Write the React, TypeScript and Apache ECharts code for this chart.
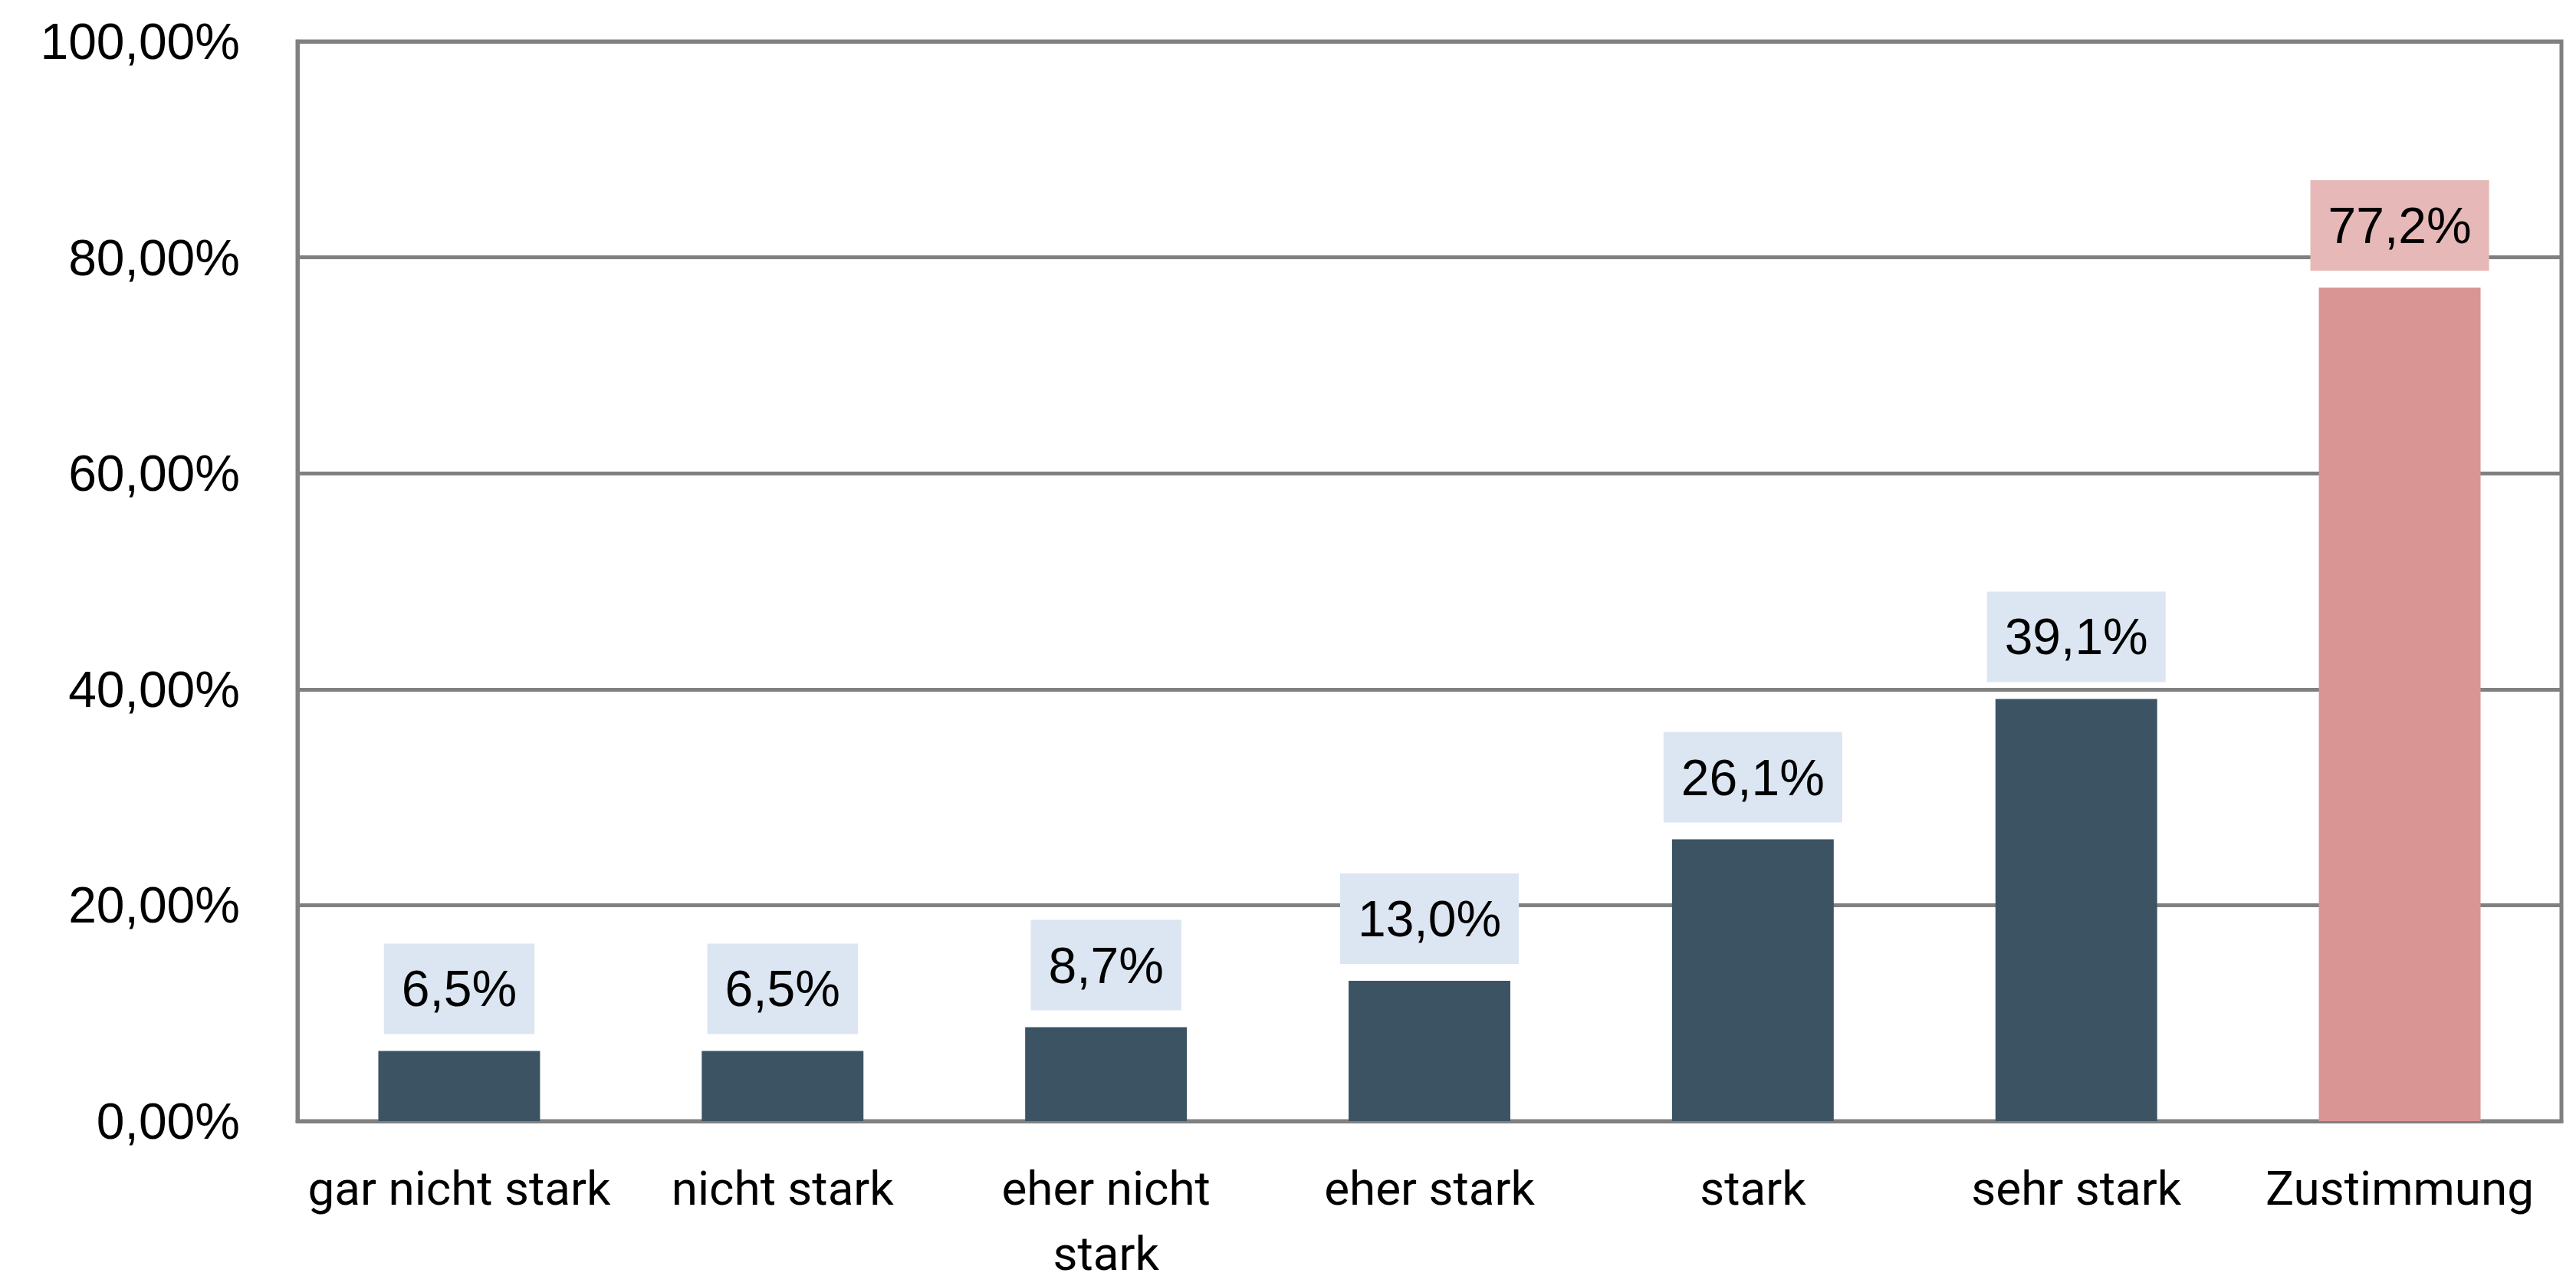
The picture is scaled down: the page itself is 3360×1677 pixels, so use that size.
import React, { useEffect, useRef } from "react";
import * as echarts from "echarts";

const categories = [
  "gar nicht stark",
  "nicht stark",
  "eher nicht\nstark",
  "eher stark",
  "stark",
  "sehr stark",
  "Zustimmung",
];
const values = [6.5, 6.5, 8.7, 13.0, 26.1, 39.1, 77.2];
const highlightIndex = 6;
const yTicks = [0, 20, 40, 60, 80, 100];

const DARK = "#3C5364";
const PINK = "#D99594";
const LABEL_BLUE = "#DCE6F2";
const LABEL_PINK = "#E6B9B8";
const GRAY = "#808080";

export default function App() {
  const ref = useRef<HTMLDivElement>(null);
  useEffect(() => {
    if (!ref.current) return;
    const chart = echarts.init(ref.current, null, { renderer: "svg" });
    const fmt1 = (v: number) => v.toFixed(1).replace(".", ",") + "%";
    chart.setOption({
      animation: false,
      backgroundColor: "#ffffff",
      grid: {
        left: 388,
        right: 19,
        top: 54,
        bottom: 199,
        show: true,
        borderColor: GRAY,
        borderWidth: 5,
        backgroundColor: "transparent",
      },
      xAxis: {
        type: "category",
        data: categories,
        axisLine: { show: true, lineStyle: { color: GRAY, width: 5 } },
        axisTick: { show: false },
        axisLabel: {
          interval: 0,
          margin: 45,
          color: "#000",
          fontFamily: "Roboto",
          fontSize: 62,
          lineHeight: 85,
        },
      },
      yAxis: {
        type: "value",
        min: yTicks[0],
        max: yTicks[yTicks.length - 1],
        interval: yTicks[1] - yTicks[0],
        axisLine: { show: true, lineStyle: { color: GRAY, width: 5 } },
        axisTick: { show: false },
        splitLine: { show: true, lineStyle: { color: GRAY, width: 5 } },
        axisLabel: {
          margin: 75,
          color: "#000",
          fontFamily: "Liberation Sans",
          fontSize: 66,
          formatter: (v: number) => v.toFixed(2).replace(".", ",") + "%",
        },
      },
      series: [
        {
          type: "bar",
          barWidth: "50%",
          data: values.map((v, i) => ({
            value: v,
            itemStyle: { color: i === highlightIndex ? PINK : DARK },
            label: {
              backgroundColor: i === highlightIndex ? LABEL_PINK : LABEL_BLUE,
            },
          })),
          label: {
            show: true,
            position: "top",
            distance: 22,
            color: "#000",
            fontFamily: "Liberation Sans",
            fontSize: 66,
            lineHeight: 66,
            padding: [26, 23, 26, 23],
            formatter: (p: any) => fmt1(p.value),
          },
        },
      ],
    });
    return () => chart.dispose();
  }, []);
  return (
    <div
      ref={ref}
      style={{ position: "fixed", left: 0, top: 0, width: 3360, height: 1677 }}
    />
  );
}
